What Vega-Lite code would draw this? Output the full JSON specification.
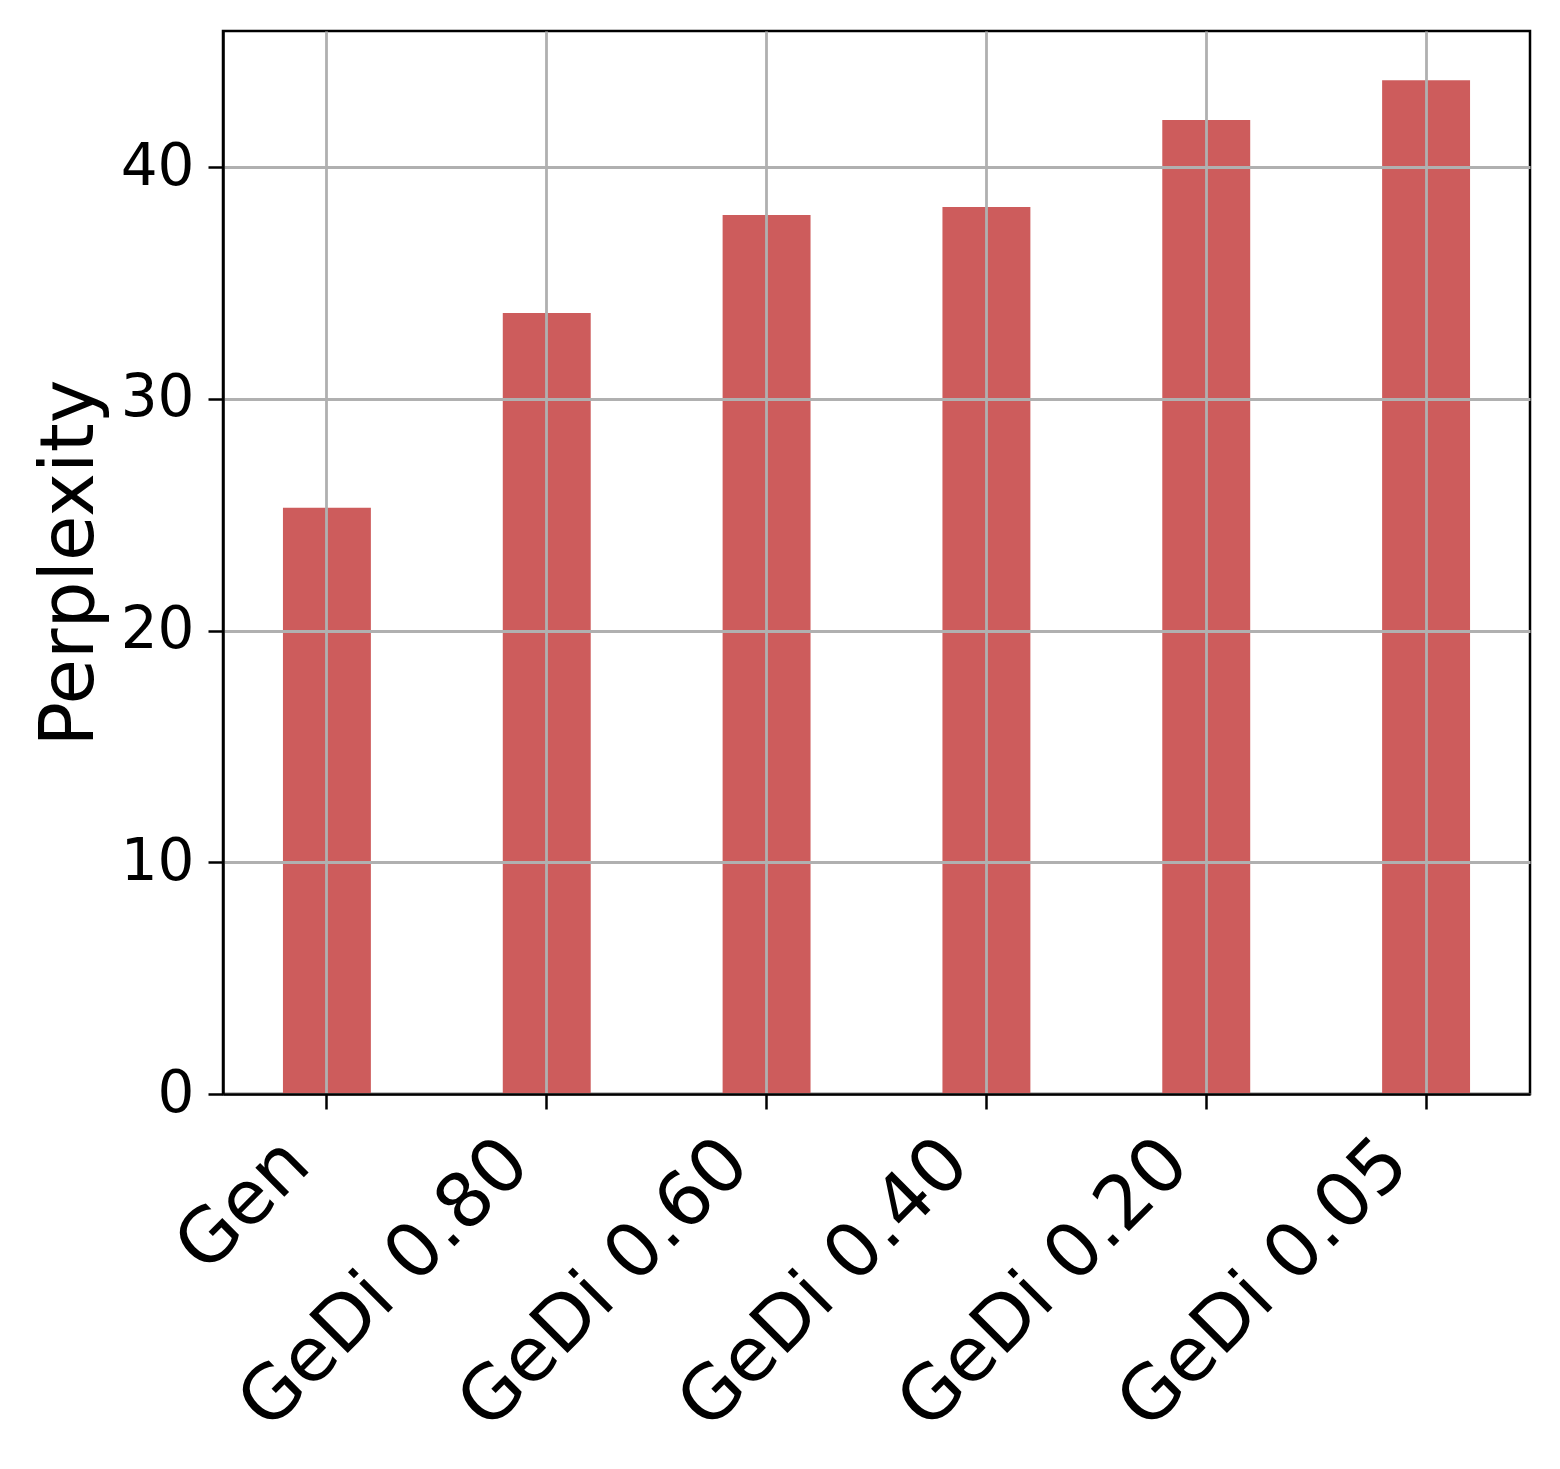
{
  "$schema": "https://vega.github.io/schema/vega-lite/v6.json",
  "width": 1307,
  "height": 1063,
  "autosize": "none",
  "padding": {"left": 223, "top": 31, "right": 30, "bottom": 375},
  "background": "white",
  "config": {
    "view": {"stroke": "black", "strokeWidth": 2.5},
    "font": "DejaVu Sans"
  },
  "data": {
    "values": [
      {"label": "Gen", "value": 25.3},
      {"label": "GeDi 0.80", "value": 33.7},
      {"label": "GeDi 0.60", "value": 37.93},
      {"label": "GeDi 0.40", "value": 38.27},
      {"label": "GeDi 0.20", "value": 42.03},
      {"label": "GeDi 0.05", "value": 43.75}
    ]
  },
  "mark": {"type": "bar", "color": "#CD5C5C"},
  "encoding": {
    "x": {
      "field": "label",
      "type": "nominal",
      "sort": null,
      "scale": {"paddingInner": 0.6, "paddingOuter": 0.2727},
      "axis": {
        "title": null,
        "labelAngle": -45,
        "labelAlign": "right",
        "labelBaseline": "middle",
        "labelFontSize": 75,
        "labelFont": "DejaVu Sans",
        "labelColor": "black",
        "labelPadding": 42,
        "labelOffset": -30,
        "labelLimit": 0,
        "labelOverlap": false,
        "tickColor": "black",
        "tickSize": 15,
        "tickWidth": 2.5,
        "domainColor": "black",
        "domainWidth": 2.5,
        "grid": true,
        "gridColor": "#b0b0b0",
        "gridWidth": 2.8,
        "bandPosition": 0.5,
        "zindex": 1
      }
    },
    "y": {
      "field": "value",
      "type": "quantitative",
      "scale": {"domain": [0, 45.87], "nice": false, "zero": true},
      "axis": {
        "title": "Perplexity",
        "titleFontSize": 74,
        "titleFontWeight": "normal",
        "titleFont": "DejaVu Sans",
        "titleColor": "black",
        "titlePadding": 12,
        "values": [0, 10, 20, 30, 40],
        "labelFontSize": 58,
        "labelFont": "DejaVu Sans",
        "labelColor": "black",
        "labelPadding": 14,
        "tickColor": "black",
        "tickSize": 15,
        "tickWidth": 2.5,
        "domainColor": "black",
        "domainWidth": 2.5,
        "grid": true,
        "gridColor": "#b0b0b0",
        "gridWidth": 2.8,
        "zindex": 1
      }
    }
  }
}
